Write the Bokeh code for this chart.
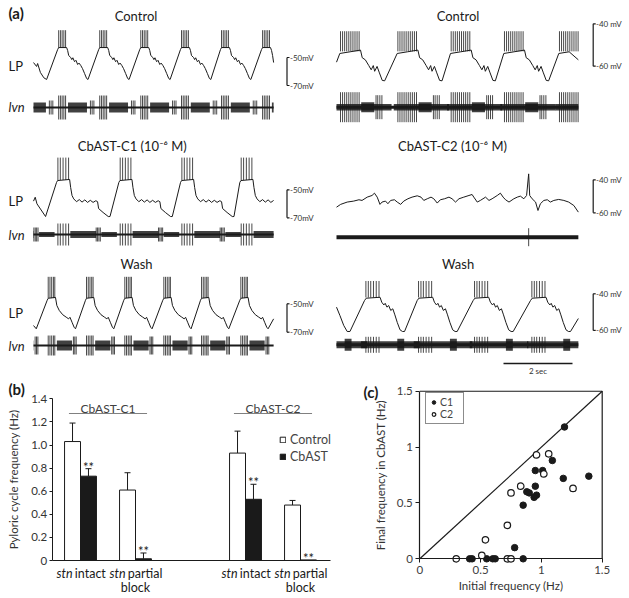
from bokeh.plotting import figure
from bokeh.models import (Range1d, Legend, LegendItem, Whisker, TeeHead,
                          ColumnDataSource, FixedTicker, NumeralTickFormatter)
from bokeh.layouts import column, row
from bokeh.transform import dodge
from bokeh.embed import file_html
from bokeh.resources import INLINE
from bokeh.core.properties import value

FONT = "Lato"
INK = "#1a1a1a"
GREY = "#404040"

# ======================= DATA =======================
# ---- (a) LP intracellular (mV) and lvn extracellular (a.u.) recordings, time in s ----
T_END_L = 6.96
T_END_R = 7.01
SCALE_BAR_S = 2.0
SCALE_L_MV = [-50, -70]
SCALE_R_MV = [-40, -60]

# Left column: CbAST-C1 experiment
c1ctl_pre_t = [0.00, 0.09, 0.12, 0.20, 0.30, 0.38]
c1ctl_pre_v = [-53.6, -56.4, -54.3, -60.7, -64.5, -65.7]
c1ctl_onsets = [0.70, 1.89, 3.08, 4.26, 5.42, 6.61]
c1ctl_cyc_t = [0.00, 0.03, 0.26, 0.29, 0.32, 0.38, 0.41, 0.44, 0.49, 0.53, 0.58, 0.62, 0.67, 0.72, 0.78, 0.84, 0.88]
c1ctl_cyc_v = [-44.3, -42.9, -42.9, -45.0, -48.6, -50.0, -51.5, -50.2, -53.0, -52.0, -55.0, -54.0, -55.7, -57.9, -61.4, -65.0, -65.7]
c1ctl_end_v = -53.6
c1ctl_spk_t = [0.03, 0.08, 0.13, 0.18, 0.23]
c1ctl_spk_v = [-43.0, -30.5]
c1ctl_lvn_w = 2
c1ctl_lvn_spk = 12
c1ctl_lvn_bands = [[0.30, 0.85, 5]]
c1ctl_lvn_ext_t = [0.95, 1.00, 1.05]
c1ctl_lvn_ext = 7

c1drug_pre_t = [0.00, 0.05, 0.10, 0.35]
c1drug_pre_v = [-58.1, -55.3, -60.0, -69.1]
c1drug_onsets = [0.667, 2.473, 4.261, 5.980]
c1drug_cyc_t = [0.00, 0.03, 0.38, 0.41, 0.45, 0.50, 0.58, 0.66, 0.74, 0.82, 0.90, 0.98, 1.06, 1.14, 1.19, 1.22, 1.35, 1.50, 1.55]
c1drug_cyc_v = [-44.8, -43.4, -42.6, -48.4, -54.1, -56.5, -58.5, -57.0, -58.8, -57.2, -59.0, -57.5, -59.0, -57.8, -58.5, -63.4, -66.2, -69.1, -69.1]
c1drug_end_v = -57.6
c1drug_spk_t = [0.04, 0.11, 0.19, 0.27, 0.35]
c1drug_spk_v = [-43.0, -27.0]
c1drug_lvn_w = 2
c1drug_lvn_spk = 11
c1drug_lvn_bands = [[0.40, 1.15, 3.5], [1.30, 1.75, 2.5]]
c1drug_lvn_ext_t = [1.15, 1.19, 1.23, 1.27]
c1drug_lvn_ext = 7

c1wash_pre_t = [0.00, 0.08]
c1wash_pre_v = [-65.3, -67.6]
c1wash_onsets = [0.397, 1.507, 2.617, 3.748, 4.841, 5.980]
c1wash_cyc_t = [0.00, 0.03, 0.24, 0.28, 0.35, 0.45, 0.55, 0.62, 0.66, 0.72, 0.78, 0.82]
c1wash_cyc_v = [-47.5, -46.1, -45.5, -51.2, -54.7, -57.7, -59.4, -60.6, -59.5, -63.0, -66.5, -67.6]
c1wash_end_v = -60.6
c1wash_spk_t = [0.03, 0.08, 0.13, 0.18, 0.22]
c1wash_spk_v = [-46.0, -31.0]
c1wash_lvn_w = 2
c1wash_lvn_spk = 10
c1wash_lvn_bands = [[0.28, 0.72, 5]]
c1wash_lvn_ext_t = [0.76, 0.80, 0.84]
c1wash_lvn_ext = 9

# Right column: CbAST-C2 experiment
c2ctl_pre_t = [0.00]
c2ctl_pre_v = [-58.1]
c2ctl_onsets = [0.096, 1.759, 3.304, 4.849, 6.443]
c2ctl_cyc_t = [0.00, 0.30, 0.60, 0.65, 0.74, 0.84, 0.91, 0.97, 1.01, 1.08, 1.14, 1.23, 1.30]
c2ctl_cyc_v = [-54.0, -53.2, -52.4, -56.0, -57.0, -59.7, -61.7, -59.7, -62.4, -60.1, -62.8, -66.7, -66.9]
c2ctl_end_v = -57.0
c2ctl_spk_t = [0.02, 0.08, 0.14, 0.20, 0.26, 0.32, 0.38, 0.44, 0.50, 0.56]
c2ctl_spk_v = [-53.0, -43.5]
c2ctl_lvn_w = 3
c2ctl_lvn_spk = 15
c2ctl_lvn_bands = [[-0.10, 1.50, 3.3], [0.62, 1.00, 5]]
c2ctl_lvn_ext_t = [1.05, 1.10, 1.16, 1.22]
c2ctl_lvn_ext = 12

c2drug_t = [0.00, 0.12, 0.31, 0.50, 0.65, 0.74, 0.89, 1.03, 1.10, 1.18, 1.26, 1.32, 1.42, 1.49, 1.57,
            1.68, 1.76, 1.86, 1.95, 2.07, 2.19, 2.34, 2.45, 2.53, 2.63, 2.74, 2.82, 2.92, 3.01, 3.13,
            3.26, 3.35, 3.45, 3.55, 3.69, 3.84, 3.93, 3.98, 4.08, 4.17, 4.32, 4.42, 4.51, 4.66, 4.75,
            4.83, 4.90, 5.00, 5.14, 5.24, 5.33, 5.43, 5.51, 5.57, 5.60, 5.67, 5.77, 5.84, 5.91, 6.01,
            6.11, 6.20, 6.30, 6.44, 6.59, 6.73, 6.88, 7.01]
c2drug_v = [-56.6, -54.9, -53.5, -52.9, -52.1, -52.5, -50.5, -49.5, -48.1, -50.5, -54.9, -53.5, -52.9, -54.5, -52.5,
            -52.1, -53.5, -54.9, -52.9, -51.5, -50.5, -49.7, -50.5, -52.5, -51.5, -50.5, -51.5, -54.1, -52.1, -51.5,
            -50.5, -51.5, -53.5, -51.5, -50.5, -49.5, -48.9, -50.5, -53.5, -52.5, -50.5, -52.5, -51.5, -49.5, -48.1,
            -50.5, -52.1, -53.5, -51.5, -50.5, -49.9, -51.5, -49.5, -36.4, -49.5, -51.5, -53.5, -58.6, -54.5, -52.5,
            -52.1, -53.5, -52.5, -51.9, -52.5, -53.5, -55.6, -59.6]
c2drug_lvn_w = 4
c2drug_lvn_ext_t = [5.57]
c2drug_lvn_ext = 9

c2wash_pre_t = [0.00, 0.10, 0.21, 0.31, 0.39]
c2wash_pre_v = [-47.3, -51.9, -57.3, -60.6, -60.6]
c2wash_onsets = [0.812, 2.338, 3.961, 5.623]
c2wash_cyc_t = [0.00, 0.05, 0.45, 0.50, 0.56, 0.60, 0.65, 0.70, 0.76, 0.82, 0.88, 0.95, 1.03, 1.10, 1.16]
c2wash_cyc_v = [-43.7, -42.4, -41.9, -44.6, -46.1, -45.2, -47.3, -46.4, -49.1, -48.2, -51.5, -55.7, -59.7, -60.6, -60.6]
c2wash_end_v = -53.5
c2wash_spk_t = [0.04, 0.11, 0.18, 0.26, 0.34, 0.42]
c2wash_spk_v = [-42.0, -33.0]
c2wash_lvn_w = 3
c2wash_lvn_spk = 8
c2wash_lvn_bands = [[-0.10, 1.60, 3.5], [0.95, 1.15, 6]]
c2wash_lvn_ext_t = []
c2wash_lvn_ext = 0

# ---- (b) pyloric cycle frequency (Hz), mean and SEM ----
groups = ["CbAST-C1", "CbAST-C2"]
bar_pos = [1, 2, 4, 5]
cat_prefix = ["stn", "stn", "stn", "stn"]
cat_word = ["intact", "partial", "intact", "partial"]
cat_line2 = ["", "block", "", "block"]
ctrl_mean = [1.03, 0.61, 0.93, 0.48]
ctrl_err = [0.16, 0.15, 0.19, 0.04]
cbast_mean = [0.73, 0.015, 0.53, 0.005]
cbast_err = [0.065, 0.05, 0.13, 0.0]
sig = ["**", "**", "**", "**"]
b_yticks = [0, 0.2, 0.4, 0.6, 0.8, 1.0, 1.2, 1.4]
B_YMAX = 1.4

# ---- (c) initial vs final frequency (Hz) ----
c1_initial = [1.19, 1.09, 0.95, 1.01, 1.18, 1.39, 0.95, 0.88, 0.90, 0.94, 0.96, 0.85, 0.78,
              0.41, 0.43, 0.55, 0.60, 0.62, 0.85]
c1_final = [1.18, 0.88, 0.79, 0.79, 0.72, 0.74, 0.65, 0.60, 0.59, 0.55, 0.57, 0.48, 0.10,
            0.0, 0.0, 0.0, 0.0, 0.0, 0.0]
c2_initial = [0.96, 1.06, 1.02, 1.26, 0.83, 0.75, 0.72, 0.54, 0.51, 0.30, 0.72, 0.75]
c2_final = [0.93, 0.94, 0.76, 0.63, 0.65, 0.59, 0.30, 0.17, 0.03, 0.0, 0.0, 0.0]
c_ticks = [0, 0.5, 1, 1.5]
AX_MAX = 1.5
identity = [0, AX_MAX]

# ======================= HELPERS =======================
PX_PER_S = 34.5


def mapper(w, h, xr, yr):
    def at(lx, ly):
        return xr[0] + lx / w * (xr[1] - xr[0]), yr[1] - ly / h * (yr[1] - yr[0])
    return at


def lp_trace(pre_t, pre_v, onsets, cyc_t, cyc_v, end_v, t_end):
    ts, vs = list(pre_t), list(pre_v)
    for k, on in enumerate(onsets):
        nxt = onsets[k + 1] if k + 1 < len(onsets) else None
        for dt, v in zip(cyc_t, cyc_v):
            t = on + dt
            if (nxt is not None and t >= nxt) or t >= t_end:
                break
            ts.append(t)
            vs.append(v)
    ts.append(t_end)
    vs.append(end_v)
    return ts, vs


def cycle_starts(onsets):
    period = onsets[1] - onsets[0]
    return [onsets[0] - period] + list(onsets)


def burst_times(onsets, rel, t_end):
    return [on + r for on in onsets for r in rel if on + r < t_end]


def bands_abs(onsets, bands, t_end):
    L, R, A = [], [], []
    for on in cycle_starts(onsets):
        for b0, b1, amp in bands:
            lo, hi = max(0.0, on + b0), min(t_end, on + b1)
            if hi > lo:
                L.append(lo); R.append(hi); A.append(amp)
    return L, R, A


def extra_abs(onsets, rel, t_end):
    return [on + r for on in cycle_starts(onsets) for r in rel if 0 <= on + r <= t_end]


def make_panel(w, h, t0_px, v_ref, v_ref_px, k, lvn_px):
    x0 = -t0_px / PX_PER_S
    x1 = (w - t0_px) / PX_PER_S
    y1 = v_ref + v_ref_px / k
    y0 = v_ref - (h - v_ref_px) / k
    p = figure(width=w, height=h, x_range=Range1d(x0, x1), y_range=Range1d(y0, y1),
               output_backend="svg", toolbar_location=None,
               x_axis_location=None, y_axis_location=None,
               min_border=0, outline_line_color=None)
    p.grid.visible = False
    p.extra_y_ranges = {"lvn": Range1d(-(h - lvn_px), lvn_px)}
    return p, mapper(w, h, (x0, x1), (y0, y1))


def put_text(p, at, lx, ly, s, size="13px", align="center", style="normal", color=INK):
    x, y = at(lx, ly)
    p.text(x=[x], y=[y], text=[s], text_font=value(FONT), text_font_size=size,
           text_align=align, text_baseline="middle", text_font_style=style, text_color=color)


def draw_spikes(p, times, base, peak):
    n = len(times)
    if n:
        p.segment(x0=times, y0=[base] * n, x1=times, y1=[peak] * n, line_color=INK, line_width=0.8)


def draw_lvn(p, t_end, w, spk_times, spk_amp, bands, ext_t, ext_amp):
    bl, br, ba = bands
    if bl:
        p.quad(left=bl, right=br, bottom=[-a for a in ba], top=ba, y_range_name="lvn",
               fill_color="#111111", fill_alpha=0.8, line_color=None)
    p.line([0, t_end], [0, 0], y_range_name="lvn", line_color=INK, line_width=w)
    for times, amp in ((spk_times, spk_amp), (ext_t, ext_amp)):
        n = len(times)
        if n:
            p.segment(x0=times, y0=[-amp] * n, x1=times, y1=[amp] * n, y_range_name="lvn",
                      line_color=INK, line_width=0.8)


def scale_bar(p, at, lx, mv, labels, label_lx):
    x = at(lx, 0)[0]
    xt = at(lx + 2.5, 0)[0]
    xl = at(label_lx, 0)[0]
    p.segment(x0=[x], y0=[mv[0]], x1=[x], y1=[mv[1]], line_color=INK, line_width=1.2)
    p.segment(x0=[x, x], y0=mv, x1=[xt, xt], y1=mv, line_color=INK, line_width=1.2)
    p.text(x=[xl, xl], y=mv, text=labels, text_font=value(FONT), text_font_size="8px",
           text_align="left", text_baseline="middle", text_color="#333333")


def lp_panel(p, pre_t, pre_v, onsets, cyc_t, cyc_v, end_v, spk_t, spk_v, t_end,
             lvn_w, lvn_spk, lvn_bands, ext_t, ext_amp):
    ts, vs = lp_trace(pre_t, pre_v, onsets, cyc_t, cyc_v, end_v, t_end)
    p.line(ts, vs, line_color=INK, line_width=1)
    st = burst_times(onsets, spk_t, t_end)
    draw_spikes(p, st, spk_v[0], spk_v[1])
    draw_lvn(p, t_end, lvn_w, st, lvn_spk, bands_abs(onsets, lvn_bands, t_end),
             extra_abs(onsets, ext_t, t_end), ext_amp)


def style_axis(ax, size="11.5px", color="#404040"):
    ax.minor_tick_line_color = None
    ax.major_tick_in = 0
    ax.axis_line_color = INK
    ax.major_tick_line_color = INK
    ax.major_label_text_font = FONT
    ax.major_label_text_font_size = size
    ax.major_label_text_color = color
    ax.axis_label_text_font = FONT
    ax.axis_label_text_font_size = size
    ax.axis_label_text_font_style = "normal"
    ax.axis_label_text_color = "#333333"


# ======================= (a) =======================
WL, WR = 322, 305
H1, H2, H3 = 125, 126, 125
T0L, T0R = 33, 14
LBL_X = 8

a1l, at = make_panel(WL, H1, T0L, -50, 57, 1.40, 107)
lp_panel(a1l, c1ctl_pre_t, c1ctl_pre_v, c1ctl_onsets, c1ctl_cyc_t, c1ctl_cyc_v, c1ctl_end_v,
         c1ctl_spk_t, c1ctl_spk_v, T_END_L, c1ctl_lvn_w, c1ctl_lvn_spk, c1ctl_lvn_bands,
         c1ctl_lvn_ext_t, c1ctl_lvn_ext)
put_text(a1l, at, LBL_X, 12.5, "(a)", size="15px", align="left", style="bold")
put_text(a1l, at, 135.5, 15, "Control")
put_text(a1l, at, LBL_X, 65.5, "LP", align="left")
put_text(a1l, at, LBL_X, 106.5, "lvn", align="left", style="italic")
scale_bar(a1l, at, 286.5, SCALE_L_MV, ["-50mV", "-70mV"], 289.5)

a1r, at = make_panel(WR, H1, T0R, -40, 23.3, 2.12, 106.7)
lp_panel(a1r, c2ctl_pre_t, c2ctl_pre_v, c2ctl_onsets, c2ctl_cyc_t, c2ctl_cyc_v, c2ctl_end_v,
         c2ctl_spk_t, c2ctl_spk_v, T_END_R, c2ctl_lvn_w, c2ctl_lvn_spk, c2ctl_lvn_bands,
         c2ctl_lvn_ext_t, c2ctl_lvn_ext)
put_text(a1r, at, 135.5, 15, "Control")
scale_bar(a1r, at, 270.7, SCALE_R_MV, ["-40 mV", "-60 mV"], 273.5)

a2l, at = make_panel(WL, H2, T0L, -50, 64.3, 1.40, 109)
lp_panel(a2l, c1drug_pre_t, c1drug_pre_v, c1drug_onsets, c1drug_cyc_t, c1drug_cyc_v, c1drug_end_v,
         c1drug_spk_t, c1drug_spk_v, T_END_L, c1drug_lvn_w, c1drug_lvn_spk, c1drug_lvn_bands,
         c1drug_lvn_ext_t, c1drug_lvn_ext)
put_text(a2l, at, 131.7, 20, "CbAST-C1 (10\u207b\u2076 M)")
put_text(a2l, at, LBL_X, 75, "LP", align="left")
put_text(a2l, at, LBL_X, 109, "lvn", align="left", style="italic")
scale_bar(a2l, at, 286.5, SCALE_L_MV, ["-50mV", "-70mV"], 289.5)

a2r, at = make_panel(WR, H2, T0R, -40, 54.3, 1.65, 111.7)
a2r.line(c2drug_t, c2drug_v, line_color=INK, line_width=1)
draw_lvn(a2r, T_END_R, c2drug_lvn_w, [], 0, ([], [], []), c2drug_lvn_ext_t, c2drug_lvn_ext)
put_text(a2r, at, 130, 20, "CbAST-C2 (10\u207b\u2076 M)")
scale_bar(a2r, at, 270.7, SCALE_R_MV, ["-40 mV", "-60 mV"], 273.5)

a3l, at = make_panel(WL, H3, T0L, -50, 52.3, 1.42, 94)
lp_panel(a3l, c1wash_pre_t, c1wash_pre_v, c1wash_onsets, c1wash_cyc_t, c1wash_cyc_v, c1wash_end_v,
         c1wash_spk_t, c1wash_spk_v, T_END_L, c1wash_lvn_w, c1wash_lvn_spk, c1wash_lvn_bands,
         c1wash_lvn_ext_t, c1wash_lvn_ext)
put_text(a3l, at, 136, 12, "Wash")
put_text(a3l, at, LBL_X, 61.3, "LP", align="left")
put_text(a3l, at, LBL_X, 94, "lvn", align="left", style="italic")
scale_bar(a3l, at, 286.5, SCALE_L_MV, ["-50mV", "-70mV"], 289.5)

a3r, at = make_panel(WR, H3, T0R, -40, 42.3, 1.83, 93.3)
lp_panel(a3r, c2wash_pre_t, c2wash_pre_v, c2wash_onsets, c2wash_cyc_t, c2wash_cyc_v, c2wash_end_v,
         c2wash_spk_t, c2wash_spk_v, T_END_R, c2wash_lvn_w, c2wash_lvn_spk, c2wash_lvn_bands,
         c2wash_lvn_ext_t, c2wash_lvn_ext)
put_text(a3r, at, 135.6, 12, "Wash")
scale_bar(a3r, at, 270.7, SCALE_R_MV, ["-40 mV", "-60 mV"], 273.5)
TB_PX = 181
tb0, tb_y = at(TB_PX, 112)
a3r.segment(x0=[tb0], y0=[tb_y], x1=[tb0 + SCALE_BAR_S], y1=[tb_y], line_color=INK, line_width=1.3)
put_text(a3r, at, TB_PX + SCALE_BAR_S * PX_PER_S / 2, 119.5, "%d sec" % SCALE_BAR_S, size="8px",
         color="#333333")

# ======================= (b) =======================
B_W, B_H = 335, 220
BX_PX, BY_PX = 55.0, 115.5          # px per unit
B_POS1_PX, B_AXIS_PX, B_RIGHT_PX = 80, 51.7, 330
B_Y0_PX = 184
b_xr = (bar_pos[0] - B_POS1_PX / BX_PX, bar_pos[0] + (B_W - B_POS1_PX) / BX_PX)
b_yr = (-(B_H - B_Y0_PX) / BY_PX, B_Y0_PX / BY_PX)
at_b = mapper(B_W, B_H, b_xr, b_yr)
b_axis_x = at_b(B_AXIS_PX, 0)[0]
b_right_x = at_b(B_RIGHT_PX, 0)[0]

BW = 0.29
src_b = ColumnDataSource(dict(
    pos=bar_pos, ctrl=ctrl_mean, cb=cbast_mean,
    cb_up=[m + e for m, e in zip(cbast_mean, cbast_err)], sig=sig))

pb = figure(width=B_W, height=B_H, x_range=Range1d(*b_xr), y_range=Range1d(*b_yr),
            output_backend="svg", toolbar_location=None, min_border=0, outline_line_color=None)
pb.grid.visible = False
r_ctrl = pb.vbar(x=dodge("pos", -BW / 2), top="ctrl", bottom=0, width=BW, source=src_b,
                 fill_color="white", line_color=INK, line_width=1)
r_cb = pb.vbar(x=dodge("pos", BW / 2), top="cb", bottom=0, width=BW, source=src_b,
               fill_color=INK, line_color=INK, line_width=1)

w_ctrl = ColumnDataSource(dict(pos=bar_pos, lo=ctrl_mean, up=[m + e for m, e in zip(ctrl_mean, ctrl_err)]))
keep = [i for i, e in enumerate(cbast_err) if e > 0]
w_cb = ColumnDataSource(dict(pos=[bar_pos[i] for i in keep], lo=[cbast_mean[i] for i in keep],
                             up=[cbast_mean[i] + cbast_err[i] for i in keep]))
for src, off in ((w_ctrl, -BW / 2), (w_cb, BW / 2)):
    pb.add_layout(Whisker(source=src, base=dodge("pos", off), lower="lo", upper="up",
                          upper_head=TeeHead(size=6, line_color=INK, line_width=1), lower_head=None,
                          line_color=INK, line_width=1))

pb.text(x=dodge("pos", BW / 2), y="cb_up", text="sig", source=src_b, text_font=value(FONT),
        text_font_size="13px", text_align="center", text_baseline="middle", y_offset=-2, text_color=INK)

LAB_Y1 = at_b(0, 197)[1]
LAB_Y2 = at_b(0, 211)[1]
off_prefix = {"intact": -8.0, "partial": -10.0}
off_word = {"intact": -5.7, "partial": -7.7}
pb.text(x=bar_pos, y=[LAB_Y1] * 4, text=cat_prefix, x_offset=[off_prefix[w] for w in cat_word],
        text_font=value(FONT), text_font_size="12.5px", text_font_style="italic",
        text_align="right", text_baseline="middle", text_color=INK)
pb.text(x=bar_pos, y=[LAB_Y1] * 4, text=cat_word, x_offset=[off_word[w] for w in cat_word],
        text_font=value(FONT), text_font_size="12.5px", text_align="left", text_baseline="middle",
        text_color=INK)
pb.text(x=bar_pos, y=[LAB_Y2] * 4, text=cat_line2, text_font=value(FONT), text_font_size="12.5px",
        text_align="center", text_baseline="middle", text_color=INK)

g_center = [sum(bar_pos[0:2]) / 2, sum(bar_pos[2:4]) / 2]
G_TXT_Y, G_LINE_Y = at_b(0, 32)[1], at_b(0, 37)[1]
G_HALF = 0.71
pb.text(x=g_center, y=[G_TXT_Y] * 2, text=groups, text_font=value(FONT), text_font_size="12px",
        text_align="center", text_baseline="middle", text_color=GREY)
pb.segment(x0=[c - G_HALF for c in g_center], y0=[G_LINE_Y] * 2, x1=[c + G_HALF for c in g_center],
           y1=[G_LINE_Y] * 2, line_color="#808080", line_width=1)

yb = pb.yaxis[0]
style_axis(yb, color="#333333")
yb.fixed_location = b_axis_x
yb.bounds = (0, B_YMAX)
yb.ticker = FixedTicker(ticks=b_yticks)
yb.formatter = NumeralTickFormatter(format="0.0")
yb.major_label_overrides = {0: "0"}
yb.major_tick_out = 3
yb.major_label_standoff = 2
yb.axis_label = "Pyloric cycle frequency (Hz)"
yb.axis_label_standoff = 8

xb = pb.xaxis[0]
style_axis(xb)
xb.fixed_location = 0
xb.bounds = (b_axis_x, b_right_x)
xb.ticker = FixedTicker(ticks=[])
xb.major_tick_out = 0

leg_b = Legend(items=[LegendItem(label="Control", renderers=[r_ctrl]),
                      LegendItem(label="CbAST", renderers=[r_cb])],
               location=(279, 132), border_line_color=None, background_fill_alpha=0,
               glyph_width=7, glyph_height=7, label_text_font=FONT, label_text_font_size="12.5px",
               label_standoff=4, spacing=2, padding=0, margin=0, label_height=14)
pb.add_layout(leg_b)
put_text(pb, at_b, LBL_X, 12, "(b)", size="15px", align="left", style="bold")

# ======================= (c) =======================
C_W, C_H = 292, 220
CX_PX, CY_PX = 121.6, 111.7
C_X0_PX, C_Y0_PX = 84.3, 182.3
c_xr = (-C_X0_PX / CX_PX, (C_W - C_X0_PX) / CX_PX)
c_yr = (-(C_H - C_Y0_PX) / CY_PX, C_Y0_PX / CY_PX)
at_c = mapper(C_W, C_H, c_xr, c_yr)

pc = figure(width=C_W, height=C_H, x_range=Range1d(*c_xr), y_range=Range1d(*c_yr),
            output_backend="svg", toolbar_location=None, min_border=0, outline_line_color=None)
pc.grid.visible = False
pc.line(x=[0, AX_MAX, AX_MAX], y=[AX_MAX, AX_MAX, 0], line_color=INK, line_width=1.2)
pc.line(x=identity, y=identity, line_color=INK, line_width=1.2)
r_c1 = pc.scatter(c1_initial, c1_final, size=6.5, fill_color=INK, line_color=INK, line_width=1)
r_c2 = pc.scatter(c2_initial, c2_final, size=6.5, fill_color="white", line_color=INK, line_width=1.2)

for ax in (pc.xaxis[0], pc.yaxis[0]):
    style_axis(ax)
    ax.fixed_location = 0
    ax.bounds = (0, AX_MAX)
    ax.ticker = FixedTicker(ticks=c_ticks)
    ax.formatter = NumeralTickFormatter(format="0.[0]")
    ax.major_tick_out = 4
    ax.major_label_standoff = 3
    ax.axis_line_width = 1.2
pc.xaxis[0].axis_label = "Initial frequency (Hz)"
pc.xaxis[0].axis_label_standoff = 2
pc.yaxis[0].axis_label = "Final frequency in CbAST (Hz)"
pc.yaxis[0].axis_label_standoff = 6
put_text(pc, at_c, 28, 15.7, "(c)", size="15px", align="left", style="bold")
leg_c = Legend(items=[LegendItem(label="C1", renderers=[r_c1]), LegendItem(label="C2", renderers=[r_c2])],
               location=(90, 172), margin=0, padding=3, spacing=0, border_line_color=INK,
               border_line_width=1, background_fill_color="white", glyph_width=9, glyph_height=12,
               label_height=12, label_standoff=2, label_text_font=FONT, label_text_font_size="10.5px")
pc.add_layout(leg_c)

layout = column(row(a1l, a1r), row(a2l, a2r), row(a3l, a3r), row(pb, pc))
open("out.html", "w").write(file_html(layout, INLINE))
